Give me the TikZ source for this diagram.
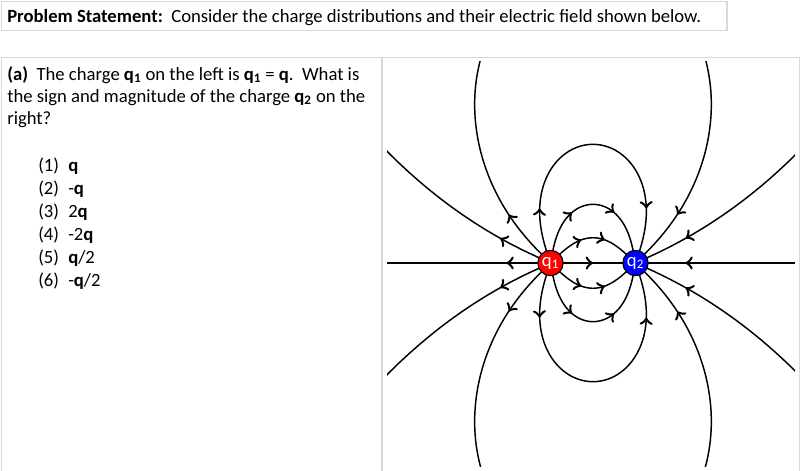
\documentclass[tikz,border=0pt]{standalone}
\usepackage{fontspec}
\setmainfont{Carlito}
\usetikzlibrary{arrows}
\usetikzlibrary{decorations.markings}
\pgfdeclarelayer{background}
\pgfdeclarelayer{foreground}
\pgfsetlayers{background,main,foreground}
\definecolor{boxgray}{RGB}{217,217,217}
\tikzstyle{frame}=[draw=boxgray, line width=0.8pt]
\tikzstyle{txt}=[inner sep=0pt, anchor=base west, font=\fontsize{14}{16}\selectfont]
\tikzstyle{charge}=[circle, draw, line width=0.8pt, minimum size=19pt,
  inner sep=0pt, text=white, font=\fontsize{14}{14}\selectfont]
\tikzstyle{fieldline}=[draw, line width=1.1pt, line join=round]
\tikzset{
    twin arrows/.style={
        decoration={markings,
          mark=at position #1 with {\arrow[scale=1.7]{>}},
          mark=at position -#1 with {\arrow[scale=1.7]{>}}},
        postaction={decorate}},
    one arrow/.style={
        decoration={markings,mark=at position #1 with {\arrow[scale=1.7]{>}}},
        postaction={decorate}},
    declare function={
        dipth(\ang,\cst)=acos(max(-1,cos(\ang)-\cst));
        dipr(\ang,\cst)=85*sin(dipth(\ang,\cst))/sin(dipth(\ang,\cst)-\ang);}}

\begin{document}
\begin{tikzpicture}[x=0.75pt, y=-0.75pt]
\useasboundingbox (0,0) rectangle (800,471);
% Draw frames
\draw[frame] (1.5,1.5) rectangle (727,30.5);
\draw[frame] (1.5,57.5) rectangle (799.5,490);
\draw[frame] (382,57.5) -- (382,490);

% Draw question text
\node[txt] (title) at (7,22) {\textbf{Problem Statement:}\ \ Consider the charge distributions and their electric field shown below.};
\node[txt] (qa1) at (7,80) {\textbf{(a)}\ \ The charge \textbf{q\textsubscript{1}} on the left is \textbf{q\textsubscript{1}} = \textbf{q}.\ \ What is};
\node[txt] (qa2) at (7,102) {the sign and magnitude of the charge \textbf{q\textsubscript{2}} on the};
\node[txt] (qa3) at (7,124) {right?};
\foreach \ans [count=\i] in {{\textbf{q}}, {-\textbf{q}}, {2\textbf{q}}, {-2\textbf{q}}, {\textbf{q}/2}, {-\textbf{q}/2}}
  {\node[txt] (num\i) at (38,148+23.1*\i) {(\i)};
   \node[txt] (ans\i) at (68,148+23.1*\i) {\ans};}

% Draw charges
\begin{pgfonlayer}{foreground}
\node[charge, fill=red] (q1) at (550.5,263) {q\textsubscript{1}};
\node[charge, fill=blue] (q2) at (635.5,263) {q\textsubscript{2}};
\end{pgfonlayer}

% Draw field lines
\begin{scope}
\clip (387,61) rectangle (795,466);
\coordinate (lft) at (387,263);
\coordinate (rgt) at (795,263);
\path[fieldline, one arrow=33pt] (q1.center) -- (lft);
\path[fieldline, one arrow=0.5] (q1.center) -- (q2.center);
\path[fieldline, one arrow=-37.5pt] (rgt) -- (q2.center);
\begin{scope}[shift={(593,263)}]
\foreach \al/\d in {44/29pt, 80/42pt, 109/42pt, 136/48pt, 156/42pt}
  \foreach \s in {-1,1} {
    \pgfmathsetmacro{\cst}{1+cos(\al)}
    \pgfmathsetmacro{\st}{\al-0.1}
    \path[fieldline, twin arrows=\d] (q1.center) -- plot[samples=200, domain=\st:1.5]
      ({-42.5+dipr(\x,\cst)*cos(\x)}, {\s*dipr(\x,\cst)*sin(\x)}) -- (q2.center);
  }
\end{scope}
\end{scope}
\end{tikzpicture}
\end{document}
